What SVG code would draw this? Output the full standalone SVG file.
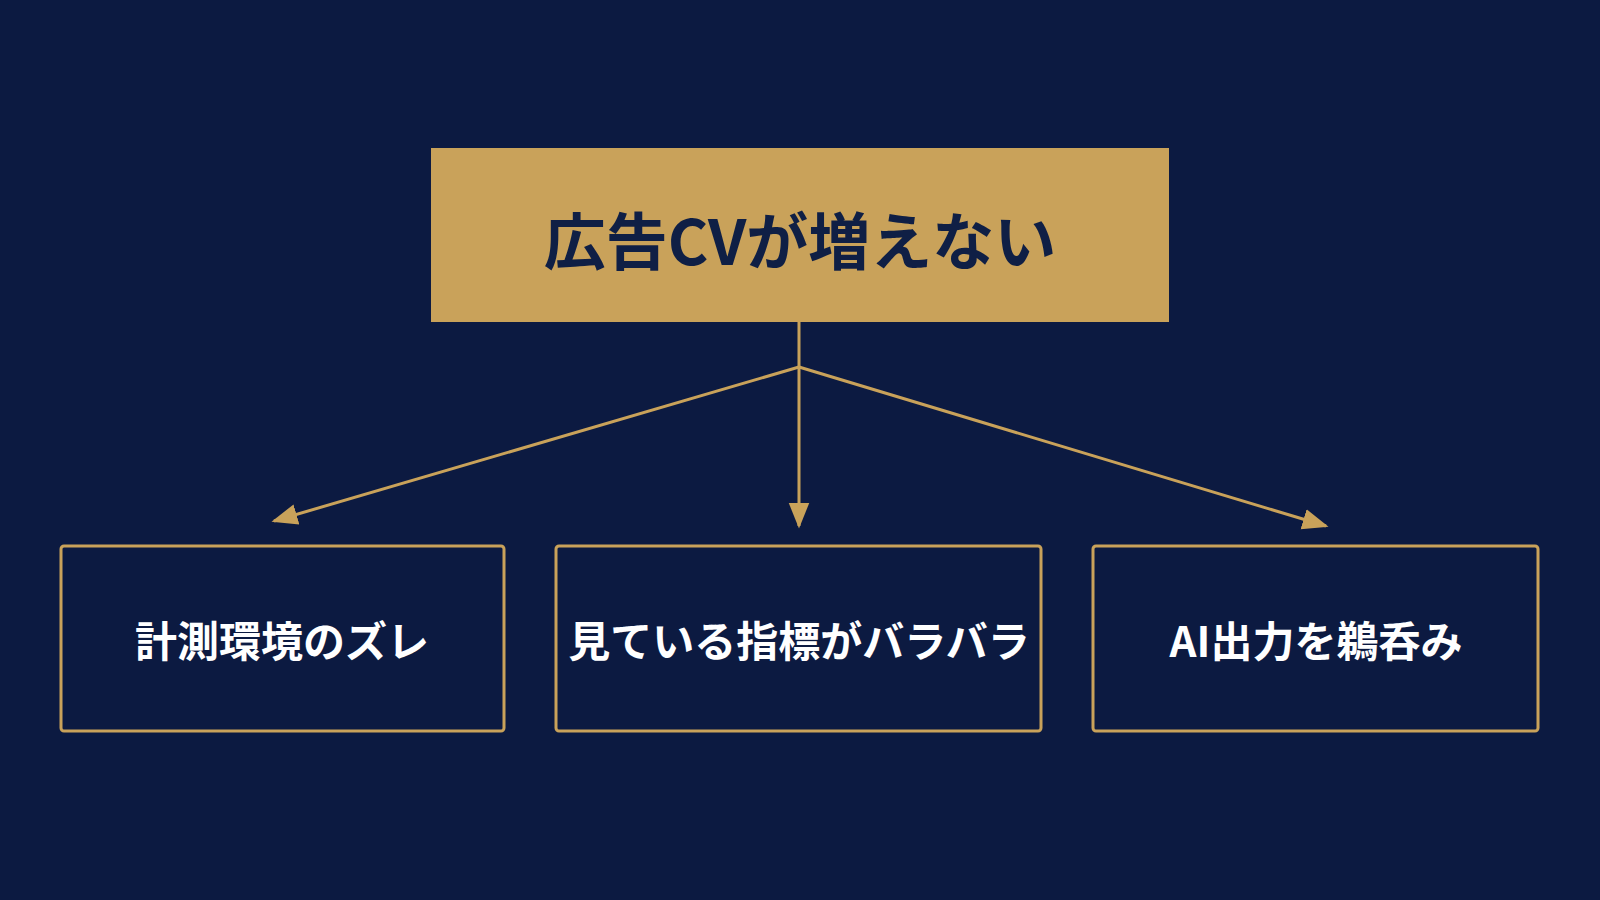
<svg xmlns="http://www.w3.org/2000/svg" width="1600" height="900" viewBox="0 0 1600 900">
<defs>
<style>
.t{font-family:"Noto Sans CJK JP","Noto Sans",sans-serif;font-weight:700;text-anchor:middle;dominant-baseline:central}
.b{fill:none;stroke:#c9a25a;stroke-width:3}
.c{stroke:#c9a25a;stroke-width:3;fill:none}
</style>
<marker id="a" viewBox="0 0 10 10" refX="9" refY="5" markerWidth="8" markerHeight="8" orient="auto" markerUnits="userSpaceOnUse"><path d="M0,0L10,5L0,10z" fill="#c9a25a" transform="scale(1)"/></marker>
<marker id="m" viewBox="0 0 10 10" refX="9" refY="5" markerWidth="26" markerHeight="26" orient="auto" markerUnits="userSpaceOnUse"><path d="M0,1L10,5L0,9z" fill="#c9a25a"/></marker>
</defs>
<rect width="1600" height="900" fill="#0c1a41"/>
<g id="root"><rect x="431" y="148" width="738" height="174" fill="#c9a25a"/><text class="t" x="800" y="238" font-size="62" fill="#0f1f45">広告CVが増えない</text></g>
<g id="connectors">
<line class="c" x1="799" y1="322" x2="799" y2="367"/>
<line class="c" x1="799" y1="367" x2="799" y2="526" marker-end="url(#m)"/>
<line class="c" x1="799" y1="367" x2="274" y2="521" marker-end="url(#m)"/>
<line class="c" x1="799" y1="367" x2="1326" y2="526" marker-end="url(#m)"/>
</g>
<g id="n1"><rect class="b" x="61" y="546" width="443" height="185" rx="3"/><text class="t" x="282" y="638" font-size="42" fill="#fff">計測環境のズレ</text></g>
<g id="n2"><rect class="b" x="556" y="546" width="485" height="185" rx="3"/><text class="t" x="799" y="638" font-size="42" fill="#fff">見ている指標がバラバラ</text></g>
<g id="n3"><rect class="b" x="1093" y="546" width="445" height="185" rx="3"/><text class="t" x="1316" y="638" font-size="42" fill="#fff">AI出力を鵜呑み</text></g>
</svg>
